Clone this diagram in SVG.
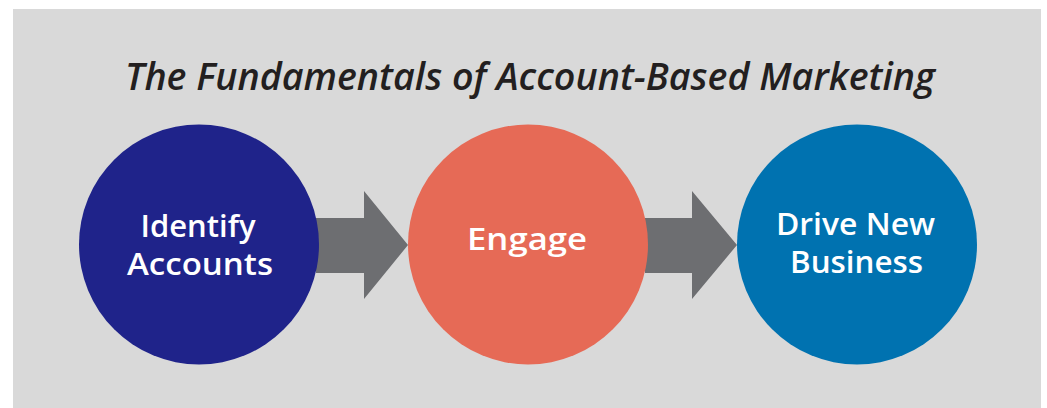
<svg xmlns="http://www.w3.org/2000/svg" width="1047" height="408" viewBox="0 0 1047 408">
  <defs>
    <style>
      .panel { fill: #d9d9d9; }
      .arrow { fill: #6d6e71; }
      .title { font-family: "Open Sans", "Liberation Sans", Arial, sans-serif; font-style: italic; font-weight: 600; font-size: 37px; fill: #231f20; }
      .label { font-family: "Open Sans", "Liberation Sans", Arial, sans-serif; font-weight: 600; font-size: 31px; fill: #ffffff; text-anchor: middle; }
    </style>
  </defs>

  <rect class="panel" x="13" y="9" width="1028" height="399"/>

  <text class="title" x="125" y="90" textLength="810" lengthAdjust="spacingAndGlyphs">The Fundamentals of Account-Based Marketing</text>

  <g id="connectors">
    <polygon class="arrow" points="316,218 364,218 364,191 408,245 364,299 364,273 316,273"/>
    <polygon class="arrow" points="645,218 692,218 692,191 737,245 692,299 692,273 645,273"/>
  </g>

  <g id="identify-accounts">
    <circle cx="199" cy="244.5" r="120" fill="#1f238a"/>
    <text class="label" x="198" y="237" textLength="115" lengthAdjust="spacingAndGlyphs">Identify</text>
    <text class="label" x="200" y="275" textLength="146" lengthAdjust="spacingAndGlyphs">Accounts</text>
  </g>

  <g id="engage">
    <circle cx="528" cy="244.5" r="120" fill="#e66a56"/>
    <text class="label" x="527" y="250" textLength="120" lengthAdjust="spacingAndGlyphs">Engage</text>
  </g>

  <g id="drive-new-business">
    <circle cx="857" cy="244.5" r="120" fill="#0072b0"/>
    <text class="label" x="855.5" y="235" textLength="159" lengthAdjust="spacingAndGlyphs">Drive New</text>
    <text class="label" x="856.5" y="273" textLength="133" lengthAdjust="spacingAndGlyphs">Business</text>
  </g>
</svg>
